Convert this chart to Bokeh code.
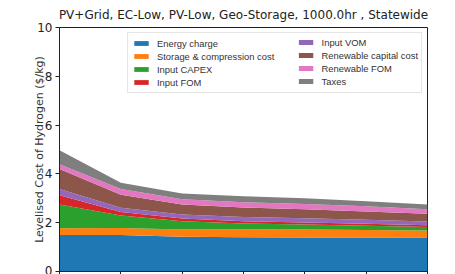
from bokeh.plotting import figure
from bokeh.models import ColumnDataSource, Range1d, FixedTicker, Legend, LegendItem
from bokeh.embed import file_html
from bokeh.resources import INLINE

# ---- data ----
x = [0, 1, 2, 3, 4, 5, 6]
energy_charge = [1.50, 1.50, 1.42, 1.40, 1.39, 1.39, 1.39]
storage_compression = [0.27, 0.28, 0.30, 0.32, 0.33, 0.31, 0.29]
input_capex = [0.98, 0.52, 0.34, 0.25, 0.21, 0.18, 0.14]
input_fom = [0.37, 0.14, 0.11, 0.09, 0.08, 0.08, 0.08]
input_vom = [0.26, 0.17, 0.17, 0.17, 0.17, 0.16, 0.15]
renewable_capital = [0.82, 0.54, 0.41, 0.39, 0.37, 0.34, 0.32]
renewable_fom = [0.20, 0.23, 0.21, 0.22, 0.22, 0.21, 0.18]
taxes = [0.57, 0.26, 0.24, 0.24, 0.23, 0.21, 0.20]

labels = ["Energy charge", "Storage & compression cost", "Input CAPEX", "Input FOM",
          "Input VOM", "Renewable capital cost", "Renewable FOM", "Taxes"]
keys = ["energy_charge", "storage_compression", "input_capex", "input_fom",
        "input_vom", "renewable_capital", "renewable_fom", "taxes"]
colors = ["#1f77b4", "#ff7f0e", "#2ca02c", "#d62728",
          "#9467bd", "#8c564b", "#e377c2", "#7f7f7f"]
y_ticks = [0, 2, 4, 6, 8, 10]

source = ColumnDataSource(dict(
    x=x, energy_charge=energy_charge, storage_compression=storage_compression,
    input_capex=input_capex, input_fom=input_fom, input_vom=input_vom,
    renewable_capital=renewable_capital, renewable_fom=renewable_fom, taxes=taxes))

FONT = "DejaVu Sans"

p = figure(width=455, height=274, output_backend="svg", toolbar_location=None,
           x_range=Range1d(0, 6), y_range=Range1d(0, 10),
           title="PV+Grid, EC-Low, PV-Low, Geo-Storage, 1000.0hr , Statewide",
           min_border_left=59, min_border_right=28, min_border_top=27, min_border_bottom=0)

renderers = p.varea_stack(keys, x="x", color=colors, source=source)

# title
p.title.text_font = FONT
p.title.text_font_size = "12px"
p.title.text_font_style = "normal"
p.title.text_color = "#222222"
p.title.align = "center"
p.title.standoff = 11
p.title.offset = 0

# grid / outline
p.xgrid.visible = False
p.ygrid.visible = False
p.outline_line_color = "#222222"
p.outline_line_width = 1
p.outline_line_alpha = 1
p.background_fill_color = "white"
p.border_fill_color = "white"

# y axis
p.yaxis.ticker = FixedTicker(ticks=y_ticks)
p.yaxis.axis_label = "Levelised Cost of Hydrogen ($/kg)"
p.yaxis.axis_label_text_font = FONT
p.yaxis.axis_label_text_font_size = "11px"
p.yaxis.axis_label_text_font_style = "normal"
p.yaxis.axis_label_text_color = "#333333"
p.yaxis.axis_label_standoff = -12
p.yaxis.major_label_text_font = FONT
p.yaxis.major_label_text_font_size = "12px"
p.yaxis.major_label_text_color = "#222222"
p.yaxis.major_label_standoff = 3
p.yaxis.major_tick_out = 4
p.yaxis.major_tick_in = 0
p.yaxis.minor_tick_out = 0
p.yaxis.minor_tick_in = 0
p.yaxis.axis_line_color = "#222222"
p.yaxis.major_tick_line_color = "#222222"

# x axis (labels are cut off in the reference)
p.xaxis.ticker = FixedTicker(ticks=x)
p.xaxis.major_label_text_font_size = "1px"
p.xaxis.major_label_text_alpha = 0
p.xaxis.major_label_standoff = 0
p.xaxis.major_tick_out = 3
p.xaxis.major_tick_in = 0
p.xaxis.minor_tick_out = 0
p.xaxis.minor_tick_in = 0
p.xaxis.axis_line_color = "#222222"
p.xaxis.major_tick_line_color = "#222222"

# legend: two columns
LFONT = "Liberation Sans"
items_a = [LegendItem(label=labels[i], renderers=[renderers[i]]) for i in range(4)]
items_b = [LegendItem(label=labels[i], renderers=[renderers[i]]) for i in range(4, 8)]


def style(leg):
    leg.location = "top_right"
    leg.margin = 5
    leg.padding = 4
    leg.spacing = 1
    leg.glyph_width = 18
    leg.glyph_height = 6
    leg.label_height = 12
    leg.label_standoff = 7
    leg.label_text_font = LFONT
    leg.label_text_font_size = "9.4px"
    leg.label_text_color = "#333333"


leg_a = Legend(items=items_a)
style(leg_a)
leg_a.label_width = 260
leg_a.border_line_color = "#cccccc"
leg_a.border_line_width = 1
leg_a.background_fill_color = "white"
leg_a.background_fill_alpha = 0.9

leg_b = Legend(items=items_b)
style(leg_b)
leg_b.border_line_alpha = 0
leg_b.background_fill_alpha = 0

p.add_layout(leg_a)
p.add_layout(leg_b)

open("out.html", "w").write(file_html(p, INLINE))
